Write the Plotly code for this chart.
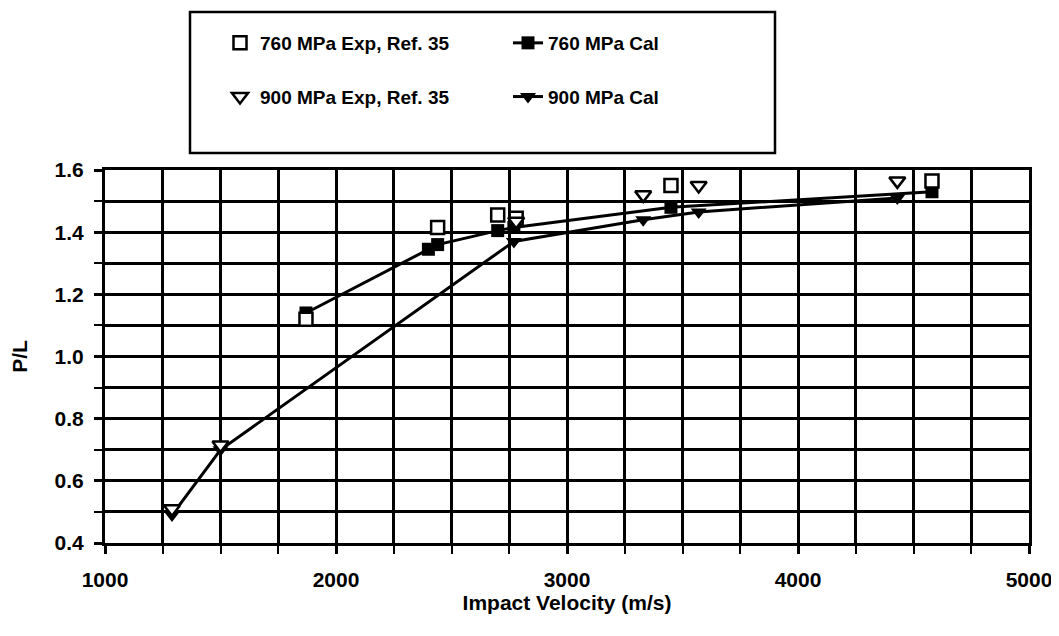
import plotly.graph_objects as go

# ---- data ----
v760_exp = [1870, 2440, 2700, 2780, 3450, 4580]
p760_exp = [1.12, 1.415, 1.455, 1.445, 1.55, 1.565]

v900_exp = [1290, 1500, 2780, 3330, 3570, 4430]
p900_exp = [0.51, 0.715, 1.435, 1.52, 1.55, 1.565]

v760_cal = [1870, 2400, 2440, 2700, 2770, 3450, 4580]
p760_cal = [1.14, 1.345, 1.36, 1.405, 1.415, 1.48, 1.53]

v900_cal = [1290, 1500, 2770, 3330, 3570, 4430]
p900_cal = [0.49, 0.70, 1.37, 1.44, 1.465, 1.51]

x_ticks = [1000, 2000, 3000, 4000, 5000]
y_ticks = [0.4, 0.6, 0.8, 1.0, 1.2, 1.4, 1.6]

FONT = "Liberation Sans"
OFF = 8  # page body margin

# plot area in target pixels
L, R, T, B = 105, 1029, 170, 543
W, H = 1059, 636

fig = go.Figure()

fig.add_trace(go.Scatter(
    x=v760_cal, y=p760_cal, mode="lines+markers", name="760 MPa Cal",
    line=dict(color="black", width=3),
    marker=dict(symbol="square", size=13, color="black"),
    legend="legend2", legendgroup="c1", legendrank=3))
fig.add_trace(go.Scatter(
    x=v900_cal, y=p900_cal, mode="lines+markers", name="900 MPa Cal",
    line=dict(color="black", width=3),
    marker=dict(symbol="triangle-down", size=14, color="black"),
    legend="legend2", legendgroup="c2", legendrank=4))
fig.add_trace(go.Scatter(
    x=v760_exp, y=p760_exp, mode="markers", name="760 MPa Exp, Ref. 35",
    marker=dict(symbol="square", size=13, color="white",
                line=dict(color="black", width=2.5)),
    legend="legend", legendgroup="e1", legendrank=1))
fig.add_trace(go.Scatter(
    x=v900_exp, y=p900_exp, mode="markers", name="900 MPa Exp, Ref. 35",
    marker=dict(symbol="triangle-down", size=14, color="white",
                line=dict(color="black", width=2.5)),
    legend="legend", legendgroup="e2", legendrank=2))

axis_common = dict(
    showline=True, linecolor="black", linewidth=3, mirror=True,
    showgrid=True, gridcolor="black", gridwidth=3,
    ticks="outside", ticklen=8, tickwidth=2.5, tickcolor="black",
    zeroline=False,
    tickfont=dict(family=FONT, size=21, color="black", weight=700),
)

fig.update_xaxes(
    range=[1000, 5000], tickvals=x_ticks, ticktext=[str(t) for t in x_ticks],
    minor=dict(dtick=250, showgrid=True, gridcolor="black", gridwidth=3,
               ticks="outside", ticklen=8, tickwidth=2, tickcolor="black"),
    title=dict(text="Impact Velocity (m/s)", standoff=5,
               font=dict(family=FONT, size=21, color="black", weight=700)),
    ticklabelstandoff=8,
    **axis_common)
fig.update_yaxes(
    range=[0.4, 1.6], tickvals=y_ticks, ticktext=[f"{t:.1f}" for t in y_ticks],
    minor=dict(dtick=0.1, showgrid=True, gridcolor="black", gridwidth=3,
               ticks="outside", ticklen=8, tickwidth=2, tickcolor="black"),
    title=dict(text="P/L", standoff=28,
               font=dict(family=FONT, size=21, color="black", weight=700)),
    ticklabelstandoff=6,
    **axis_common)

pw = R - L
ph = B - T

legend_common = dict(
    bgcolor="rgba(0,0,0,0)", borderwidth=0,
    font=dict(family=FONT, size=19, color="black", weight=700),
    tracegroupgap=26, traceorder="grouped",
    xanchor="left", yanchor="top", yref="paper", xref="paper",
)

def px(xp):
    return (xp - L) / pw

def py(yp):
    return (B - yp) / ph

fig.update_layout(
    width=W, height=H,
    margin=dict(l=L - OFF, r=W - R + OFF, t=T - OFF, b=H - B + OFF, autoexpand=False),
    paper_bgcolor="white", plot_bgcolor="white",
    showlegend=True,
    legend=dict(x=px(220), y=py(24), **legend_common),
    legend2=dict(x=px(508), y=py(24), **legend_common),
    shapes=[dict(type="rect", xref="paper", yref="paper",
                 x0=px(190), x1=px(775), y0=py(153), y1=py(12),
                 line=dict(color="black", width=2.5), fillcolor="rgba(0,0,0,0)")],
)

fig.write_html("out.html")
